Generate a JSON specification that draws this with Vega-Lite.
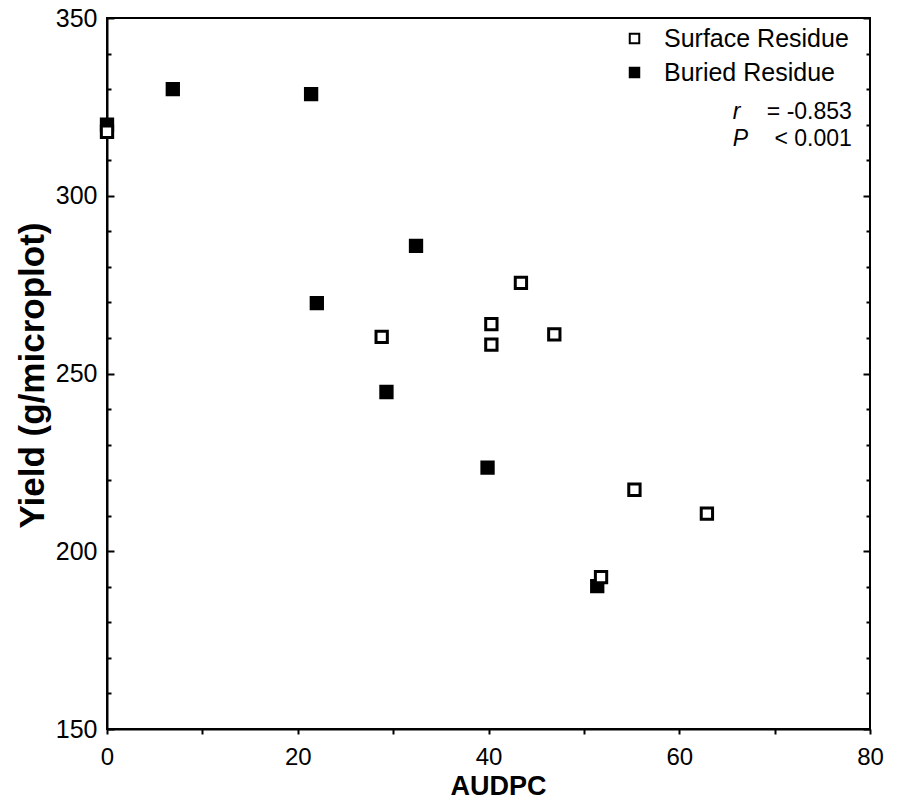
{
  "$schema": "https://vega.github.io/schema/vega-lite/v6.json",
  "width": 763,
  "height": 711,
  "autosize": {"type": "none"},
  "padding": {"left": 107, "top": 18, "right": 30, "bottom": 73},
  "background": "white",
  "config": {
    "view": {"stroke": "black", "strokeWidth": 2},
    "font": "Liberation Sans",
    "axis": {"domainColor": "black", "domainWidth": 2, "tickColor": "black", "tickWidth": 2, "grid": false, "labelColor": "black", "titleColor": "black", "labelFont": "Liberation Sans", "titleFont": "Liberation Sans"}
  },
  "datasets": {
    "buried": [
      {"AUDPC": 0, "Yield": 320, "Residue": "Buried Residue"},
      {"AUDPC": 6.9, "Yield": 330, "Residue": "Buried Residue"},
      {"AUDPC": 21.4, "Yield": 328.6, "Residue": "Buried Residue"},
      {"AUDPC": 32.4, "Yield": 285.9, "Residue": "Buried Residue"},
      {"AUDPC": 22.0, "Yield": 269.8, "Residue": "Buried Residue"},
      {"AUDPC": 29.3, "Yield": 244.8, "Residue": "Buried Residue"},
      {"AUDPC": 39.9, "Yield": 223.5, "Residue": "Buried Residue"},
      {"AUDPC": 51.4, "Yield": 190.2, "Residue": "Buried Residue"}
    ],
    "surface": [
      {"AUDPC": 0, "Yield": 318, "Residue": "Surface Residue"},
      {"AUDPC": 28.8, "Yield": 260.3, "Residue": "Surface Residue"},
      {"AUDPC": 43.4, "Yield": 275.5, "Residue": "Surface Residue"},
      {"AUDPC": 40.3, "Yield": 263.9, "Residue": "Surface Residue"},
      {"AUDPC": 40.3, "Yield": 258.1, "Residue": "Surface Residue"},
      {"AUDPC": 46.9, "Yield": 261.0, "Residue": "Surface Residue"},
      {"AUDPC": 55.3, "Yield": 217.3, "Residue": "Surface Residue"},
      {"AUDPC": 62.9, "Yield": 210.6, "Residue": "Surface Residue"},
      {"AUDPC": 51.8, "Yield": 192.7, "Residue": "Surface Residue"}
    ],
    "statSymbols": [
      {"AUDPC": 65.6, "Yield": 321.6, "t": "r"},
      {"AUDPC": 65.6, "Yield": 314.0, "t": "P"}
    ],
    "statValues": [
      {"AUDPC": 78.1, "Yield": 321.6, "t": "= -0.853"},
      {"AUDPC": 78.1, "Yield": 314.0, "t": "< 0.001"}
    ]
  },
  "layer": [
    {
      "data": {"name": "buried"},
      "mark": {"type": "point", "shape": "square", "filled": true, "stroke": "black", "strokeWidth": 3, "size": 128, "opacity": 1},
      "encoding": {
        "x": {"field": "AUDPC", "type": "quantitative", "scale": {"domain": [0, 80], "nice": false},
          "axis": {"values": [0, 10, 20, 30, 40, 50, 60, 70, 80], "labelExpr": "datum.value % 20 === 0 ? datum.label : ''", "tickSize": 5, "labelFontSize": 24, "labelPadding": 11, "labelFlush": false,
            "title": "AUDPC", "titleFontSize": 27, "titleFontWeight": "bold", "titleBaseline": "alphabetic", "titleAnchor": "middle", "titleX": 391, "titleY": 65}},
        "y": {"field": "Yield", "type": "quantitative", "scale": {"domain": [150, 350], "nice": false, "zero": false},
          "axis": {"orient": "left", "values": [150, 200, 250, 300, 350], "tickSize": -7, "labelPadding": 17, "labelFontSize": 25, "labelFlush": false,
            "title": "Yield (g/microplot)", "titleFontSize": 35, "titleFontWeight": "bold", "titleAngle": 270, "titleAlign": "center", "titleBaseline": "alphabetic", "titleX": -64, "titleY": 357}},
        "fill": {"field": "Residue", "type": "nominal", "scale": {"domain": ["Surface Residue", "Buried Residue"], "range": ["white", "black"]},
          "legend": {"title": null, "orient": "none", "legendX": 515, "legendY": 8, "padding": 0, "symbolType": "square", "symbolSize": 90, "symbolStrokeColor": "black", "symbolStrokeWidth": 2, "labelFontSize": 25, "labelFont": "Liberation Sans", "labelColor": "black", "labelOffset": 17, "labelLimit": 0, "rowPadding": 8}}
      }
    },
    {
      "data": {"name": "surface"},
      "mark": {"type": "point", "shape": "square", "filled": true, "stroke": "black", "strokeWidth": 3, "size": 128, "opacity": 1},
      "encoding": {
        "x": {"field": "AUDPC", "type": "quantitative", "axis": null},
        "y": {"field": "Yield", "type": "quantitative",
          "axis": {"orient": "left", "values": [160, 170, 180, 190, 210, 220, 230, 240, 260, 270, 280, 290, 310, 320, 330, 340], "tickSize": -4, "labels": false, "domain": false, "title": null}},
        "fill": {"field": "Residue", "type": "nominal"}
      }
    },
    {
      "data": {"name": "statSymbols"},
      "mark": {"type": "text", "align": "left", "baseline": "alphabetic", "fontSize": 23, "fontStyle": "italic", "font": "Liberation Sans", "color": "black"},
      "encoding": {
        "x": {"field": "AUDPC", "type": "quantitative", "axis": null},
        "y": {"field": "Yield", "type": "quantitative",
          "axis": {"orient": "right", "values": [150, 200, 250, 300, 350], "tickSize": -7, "labels": false, "domain": false, "title": null}},
        "text": {"field": "t"}
      }
    },
    {
      "data": {"name": "statValues"},
      "mark": {"type": "text", "align": "right", "baseline": "alphabetic", "fontSize": 23, "font": "Liberation Sans", "color": "black"},
      "encoding": {
        "x": {"field": "AUDPC", "type": "quantitative", "axis": null},
        "y": {"field": "Yield", "type": "quantitative",
          "axis": {"orient": "right", "values": [160, 170, 180, 190, 210, 220, 230, 240, 260, 270, 280, 290, 310, 320, 330, 340], "tickSize": -4, "labels": false, "domain": false, "title": null}},
        "text": {"field": "t"}
      }
    }
  ],
  "resolve": {"axis": {"x": "independent", "y": "independent"}}
}
